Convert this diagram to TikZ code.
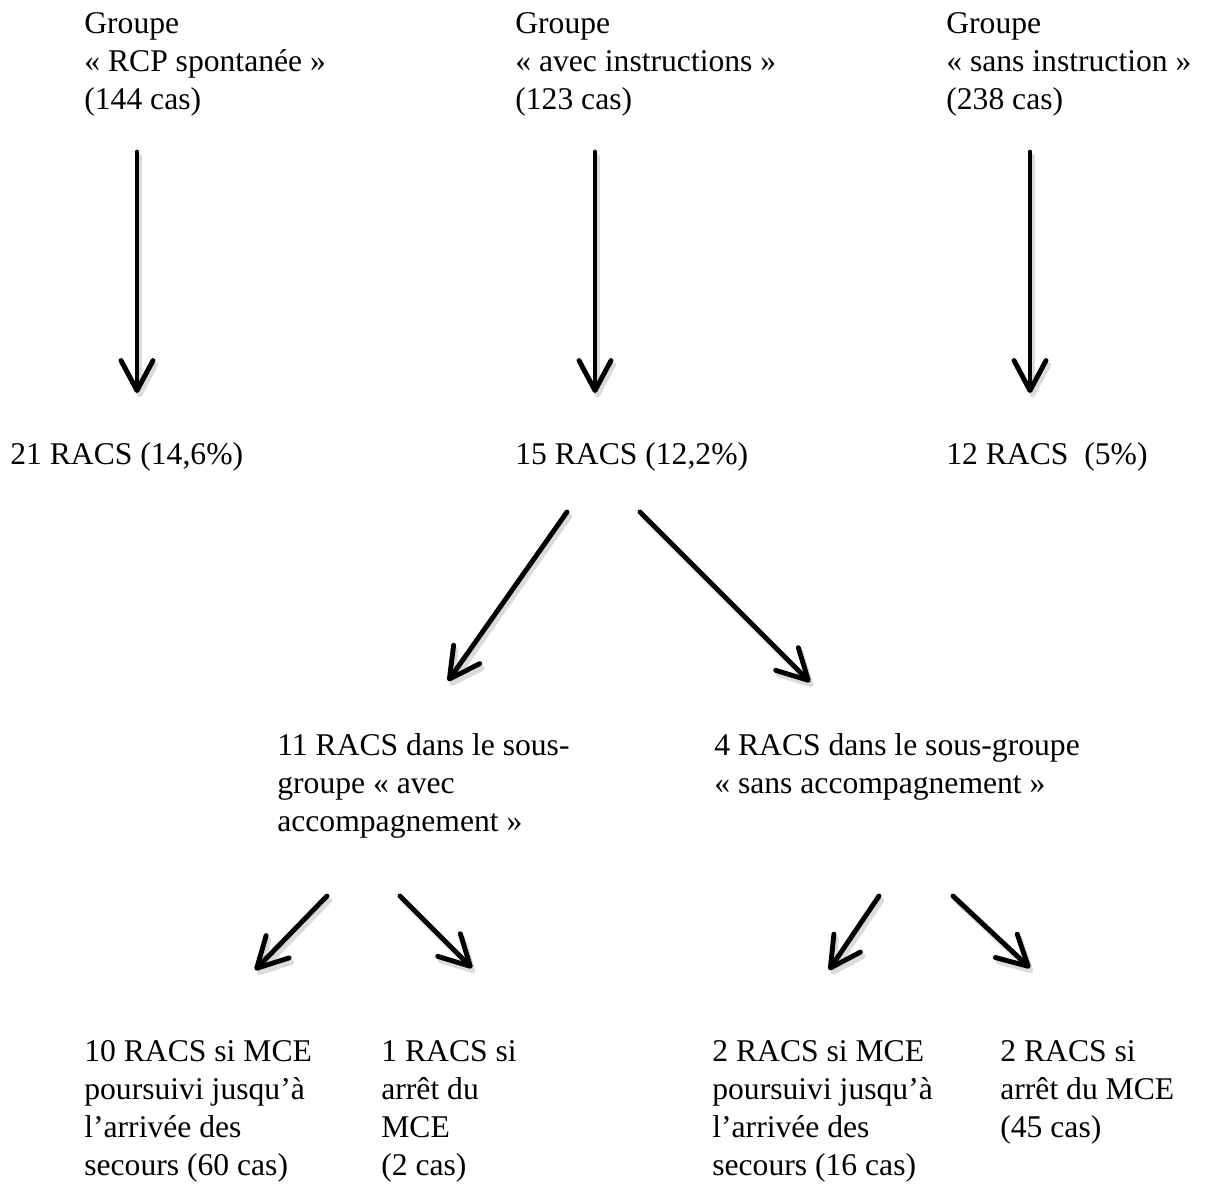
\documentclass[tikz,border=0pt]{standalone}
\usepackage{fontspec}
\setmainfont{Liberation Serif}
\usepackage{tikz}
\usetikzlibrary{arrows.meta, positioning}

\tikzset{
    lbl/.style={anchor=north west, inner sep=0pt, align=left,
        font=\fontsize{18}{21.6}\selectfont},
    arr/.style={line width=2.8pt, line cap=round,
        -{Straight Barb[length=0.6cm, width=0.64cm, round]}},
    arrshadow/.style={arr, draw=black!14,
        transform canvas={shift={(1.5pt,-2.5pt)}}}
}

\begin{document}
\begin{tikzpicture}[x=0.02cm, y=-0.02cm]
    \useasboundingbox (0,0) rectangle (1216,1186);

    % groups
    \node[lbl] (grpA) at (84,12)  {Groupe\\« RCP spontanée »\\(144 cas)};
    \node[lbl] (grpB) at (515,12) {Groupe\\« avec instructions »\\(123 cas)};
    \node[lbl] (grpC) at (946,12) {Groupe\\« sans instruction »\\(238 cas)};

    % RACS per group
    \node[lbl] (racsA) at (10,442)  {21 RACS (14,6\%)};
    \node[lbl] (racsB) at (515,442) {15 RACS (12,2\%)};
    \node[lbl] (racsC) at (946,442) {12 RACS~~(5\%)};

    % sub-groups
    \node[lbl] (subA) at (277,733) {11 RACS dans le sous-\\groupe « avec\\accompagnement »};
    \node[lbl] (subB) at (714,733) {4 RACS dans le sous-groupe\\« sans accompagnement »};

    % outcomes
    \node[lbl] (outA) at (84,1040)  {10 RACS si MCE\\poursuivi jusqu’à\\l’arrivée des\\secours (60 cas)};
    \node[lbl] (outB) at (381,1040) {1 RACS si\\arrêt du\\MCE\\(2 cas)};
    \node[lbl] (outC) at (712,1040) {2 RACS si MCE\\poursuivi jusqu’à\\l’arrivée des\\secours (16 cas)};
    \node[lbl] (outD) at (1000,1040) {2 RACS si\\arrêt du MCE\\(45 cas)};

    % arrow ends
    \foreach \n/\x/\y in {
        downA/137/152, tipA/137/393,
        downB/595/152, tipB/595/393,
        downC/1030/152, tipC/1030/393,
        splitL/567/512, tipL/448/681,
        splitR/640/512, tipR/810/682,
        leftA/327/896, tipLA/255/970,
        rightA/400/896, tipRA/472/968,
        leftB/879/896, tipLB/829/970,
        rightB/953/896, tipRB/1030/968}
        \coordinate (\n) at (\x,\y);

    \foreach \a/\b in {downA/tipA, downB/tipB, downC/tipC,
        splitL/tipL, splitR/tipR,
        leftA/tipLA, rightA/tipRA, leftB/tipLB, rightB/tipRB}
    {
        \draw[arrshadow] (\a) -- (\b);
        \draw[arr] (\a) -- (\b);
    }

\end{tikzpicture}
\end{document}
